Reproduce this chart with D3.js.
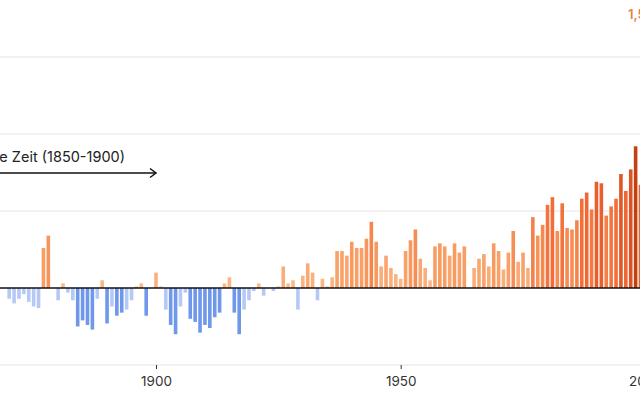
<!DOCTYPE html>
<html><head><meta charset="utf-8">
<script src="https://cdn.jsdelivr.net/npm/d3@7"></script>
<style>
html,body{margin:0;padding:0;background:#fff;}
svg{display:block;font-family:Inter,"Noto Sans",sans-serif;}
</style></head>
<body><svg id="c" width="640" height="400"></svg>
<script>
const startYear = 1870;
const anomalies = [
 -0.07,-0.10,-0.07,-0.04,-0.09,-0.12,-0.13,0.26,0.34,0.00,
 -0.08,0.03,-0.03,-0.08,-0.25,-0.21,-0.24,-0.27,-0.07,0.05,
 -0.23,-0.12,-0.18,-0.16,-0.14,-0.08,0.01,0.03,-0.18,0.00,
 0.10,0.01,-0.14,-0.24,-0.30,-0.12,-0.03,-0.20,-0.22,-0.29,
 -0.24,-0.26,-0.19,-0.16,0.03,0.07,-0.16,-0.30,-0.14,-0.08,
 -0.02,0.03,-0.05,0.00,-0.02,0.01,0.14,0.03,0.05,-0.14,
 0.08,0.16,0.10,-0.08,0.06,0.01,0.07,0.24,0.24,0.21,
 0.30,0.26,0.26,0.32,0.43,0.30,0.14,0.21,0.13,0.09,
 0.06,0.24,0.31,0.38,0.19,0.13,0.05,0.27,0.29,0.27,
 0.21,0.29,0.23,0.27,0.00,0.13,0.19,0.22,0.14,0.29,
 0.24,0.12,0.23,0.37,0.17,0.23,0.13,0.46,0.34,0.41,
 0.54,0.59,0.37,0.55,0.39,0.38,0.44,0.58,0.62,0.51,
 0.69,0.68,0.47,0.53,0.58,0.74,0.63,0.77,0.92,0.67
];
const years = anomalies.map((d,i)=>startYear+i);
const gridValues = [-0.5, 0.5, 1.0, 1.5];
const tickYears = [1900, 1950, 2000];
const annotationText = "Vorindustrielle Zeit (1850-1900)";
const annotationSpan = [1850, 1900];
const topLabel = "1,5 °C";

const svg = d3.select("#c");
const W = 640, H = 400;
const x = d3.scaleLinear().domain([1900, 2000]).range([156, 645.4]);
const y = d3.scaleLinear().domain([0, 0.5]).range([288, 211]);

const posColor = d3.scaleLinear()
  .domain([0, 0.3, 0.6, 0.95])
  .range(["#fcbd8c", "#f79a5f", "#f26b37", "#c23c0b"])
  .clamp(true);
const color = v => v >= 0 ? posColor(v) : (v > -0.15 ? "#b5c9f6" : "#6f97ea");

// grid
svg.append("g").selectAll("line").data(gridValues).join("line")
  .attr("x1", 0).attr("x2", W)
  .attr("y1", d => y(d)).attr("y2", d => y(d))
  .attr("stroke", "#e4e4e4").attr("stroke-width", 1);

// bars
const bw = 3.6;
svg.append("g").selectAll("rect").data(years).join("rect")
  .attr("x", (d) => x(d) - bw/2)
  .attr("width", bw)
  .attr("y", (d,i) => Math.min(y(anomalies[i]), y(0)))
  .attr("height", (d,i) => Math.abs(y(anomalies[i]) - y(0)))
  .attr("fill", (d,i) => color(anomalies[i]));

// zero line
svg.append("line").attr("x1", 0).attr("x2", W)
  .attr("y1", y(0)).attr("y2", y(0))
  .attr("stroke", "#111").attr("stroke-width", 1.5);

// x axis
const ax = svg.append("g").attr("transform", `translate(0,${y(-0.5)})`)
  .call(d3.axisBottom(x).tickValues(tickYears).tickFormat(d3.format("d")).tickSize(4).tickPadding(7));
ax.select(".domain").remove();
ax.selectAll(".tick line").attr("stroke", "#333");
ax.selectAll(".tick text").attr("fill", "#333").style("font-size", "13.5px")
  .style("font-family", "Inter, 'Noto Sans', sans-serif");

// annotation
svg.append("text").attr("x", 125).attr("y", 162)
  .attr("text-anchor", "end").attr("fill", "#222")
  .style("font-size", "14.5px").text(annotationText);
const ay = 173;
svg.append("line").attr("x1", x(annotationSpan[0])).attr("x2", x(annotationSpan[1]))
  .attr("y1", ay).attr("y2", ay).attr("stroke", "#111").attr("stroke-width", 1.5);
svg.append("path")
  .attr("d", `M${x(annotationSpan[1]) - 6},${ay - 4.5} L${x(annotationSpan[1])},${ay} L${x(annotationSpan[1]) - 6},${ay + 4.5}`)
  .attr("fill", "none").attr("stroke", "#111").attr("stroke-width", 1.5);

// top label
svg.append("text").attr("x", 628).attr("y", 19)
  .attr("fill", "#e8804a").style("font-size", "13px").style("font-weight", 600)
  .text(topLabel);
</script></body></html>
